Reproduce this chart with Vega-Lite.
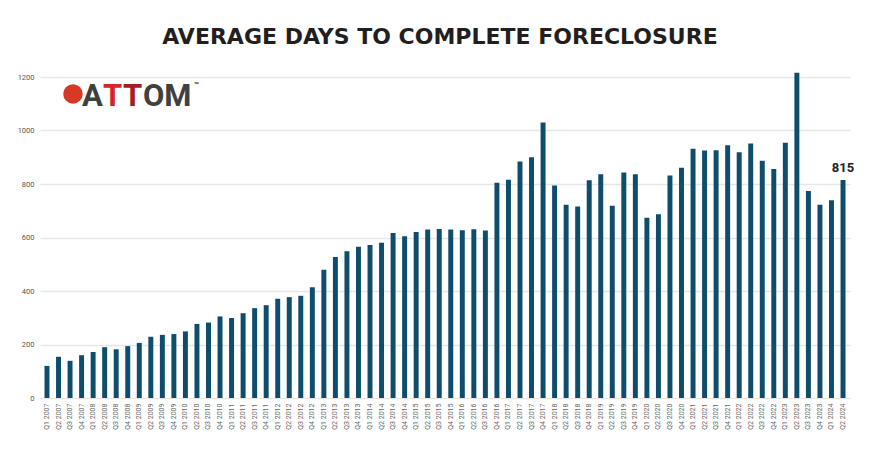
{
  "$schema": "https://vega.github.io/schema/vega-lite/v6.json",
  "width": 810,
  "height": 321,
  "autosize": {"type": "none"},
  "padding": {"left": 40, "top": 77, "right": 30, "bottom": 56},
  "background": "white",
  "title": {
    "text": "AVERAGE DAYS TO COMPLETE FORECLOSURE",
    "frame": "group",
    "anchor": "middle",
    "offset": 24,
    "dx": -5,
    "font": "DejaVu Sans",
    "fontSize": 22,
    "fontWeight": 700,
    "color": "#231f20"
  },
  "config": {
    "view": {"stroke": null},
    "axis": {"labelFont": "Roboto", "labelColor": "#555555"}
  },
  "data": {
    "values": [
      {"q": "Q1 2007", "days": 120}, {"q": "Q2 2007", "days": 154}, {"q": "Q3 2007", "days": 139}, {"q": "Q4 2007", "days": 160},
      {"q": "Q1 2008", "days": 172}, {"q": "Q2 2008", "days": 190}, {"q": "Q3 2008", "days": 182}, {"q": "Q4 2008", "days": 194},
      {"q": "Q1 2009", "days": 206}, {"q": "Q2 2009", "days": 229}, {"q": "Q3 2009", "days": 236}, {"q": "Q4 2009", "days": 239},
      {"q": "Q1 2010", "days": 249}, {"q": "Q2 2010", "days": 277}, {"q": "Q3 2010", "days": 282}, {"q": "Q4 2010", "days": 305},
      {"q": "Q1 2011", "days": 299}, {"q": "Q2 2011", "days": 317}, {"q": "Q3 2011", "days": 336}, {"q": "Q4 2011", "days": 347},
      {"q": "Q1 2012", "days": 371}, {"q": "Q2 2012", "days": 377}, {"q": "Q3 2012", "days": 382}, {"q": "Q4 2012", "days": 414},
      {"q": "Q1 2013", "days": 479}, {"q": "Q2 2013", "days": 527}, {"q": "Q3 2013", "days": 549}, {"q": "Q4 2013", "days": 565},
      {"q": "Q1 2014", "days": 572}, {"q": "Q2 2014", "days": 580}, {"q": "Q3 2014", "days": 617}, {"q": "Q4 2014", "days": 605},
      {"q": "Q1 2015", "days": 621}, {"q": "Q2 2015", "days": 630}, {"q": "Q3 2015", "days": 632}, {"q": "Q4 2015", "days": 630},
      {"q": "Q1 2016", "days": 627}, {"q": "Q2 2016", "days": 631}, {"q": "Q3 2016", "days": 626}, {"q": "Q4 2016", "days": 805},
      {"q": "Q1 2017", "days": 816}, {"q": "Q2 2017", "days": 884}, {"q": "Q3 2017", "days": 900}, {"q": "Q4 2017", "days": 1030},
      {"q": "Q1 2018", "days": 794}, {"q": "Q2 2018", "days": 722}, {"q": "Q3 2018", "days": 716}, {"q": "Q4 2018", "days": 814},
      {"q": "Q1 2019", "days": 836}, {"q": "Q2 2019", "days": 719}, {"q": "Q3 2019", "days": 843}, {"q": "Q4 2019", "days": 836},
      {"q": "Q1 2020", "days": 674}, {"q": "Q2 2020", "days": 687}, {"q": "Q3 2020", "days": 832}, {"q": "Q4 2020", "days": 861},
      {"q": "Q1 2021", "days": 932}, {"q": "Q2 2021", "days": 925}, {"q": "Q3 2021", "days": 926}, {"q": "Q4 2021", "days": 945},
      {"q": "Q1 2022", "days": 919}, {"q": "Q2 2022", "days": 951}, {"q": "Q3 2022", "days": 887}, {"q": "Q4 2022", "days": 856},
      {"q": "Q1 2023", "days": 954}, {"q": "Q2 2023", "days": 1216}, {"q": "Q3 2023", "days": 774}, {"q": "Q4 2023", "days": 722},
      {"q": "Q1 2024", "days": 739}, {"q": "Q2 2024", "days": 815}
    ]
  },
  "encoding": {
    "x": {
      "field": "q",
      "type": "ordinal",
      "title": null,
      "scale": {
        "domain": ["Q1 2007","Q2 2007","Q3 2007","Q4 2007","Q1 2008","Q2 2008","Q3 2008","Q4 2008","Q1 2009","Q2 2009","Q3 2009","Q4 2009","Q1 2010","Q2 2010","Q3 2010","Q4 2010","Q1 2011","Q2 2011","Q3 2011","Q4 2011","Q1 2012","Q2 2012","Q3 2012","Q4 2012","Q1 2013","Q2 2013","Q3 2013","Q4 2013","Q1 2014","Q2 2014","Q3 2014","Q4 2014","Q1 2015","Q2 2015","Q3 2015","Q4 2015","Q1 2016","Q2 2016","Q3 2016","Q4 2016","Q1 2017","Q2 2017","Q3 2017","Q4 2017","Q1 2018","Q2 2018","Q3 2018","Q4 2018","Q1 2019","Q2 2019","Q3 2019","Q4 2019","Q1 2020","Q2 2020","Q3 2020","Q4 2020","Q1 2021","Q2 2021","Q3 2021","Q4 2021","Q1 2022","Q2 2022","Q3 2022","Q4 2022","Q1 2023","Q2 2023","Q3 2023","Q4 2023","Q1 2024","Q2 2024"],
        "paddingInner": 0.57,
        "paddingOuter": 0.39
      },
      "axis": {
        "labelAngle": -90,
        "labelFontSize": 7,
        "labelColor": "#666666",
        "labelPadding": 5,
        "ticks": false,
        "domain": false,
        "grid": false
      }
    },
    "y": {
      "field": "days",
      "type": "quantitative",
      "title": null,
      "scale": {"domain": [0, 1200], "nice": false},
      "axis": {
        "values": [0, 200, 400, 600, 800, 1000, 1200],
        "format": "d",
        "labelFontSize": 7.5,
        "labelPadding": 6,
        "ticks": false,
        "domain": false,
        "gridColor": "#e6e6e6",
        "gridWidth": 1.5
      }
    }
  },
  "layer": [
    {
      "mark": {"type": "bar", "color": "#0f4d6d"}
    },
    {
      "transform": [{"filter": "datum.q === 'Q2 2024'"}],
      "mark": {"type": "text", "font": "Roboto", "fontSize": 13, "fontWeight": 700, "color": "#222222", "baseline": "bottom", "dy": -5},
      "encoding": {"text": {"field": "days", "type": "quantitative"}}
    },
    {
      "data": {"values": [{"q": "Q1 2007", "days": 1092}]},
      "layer": [
        {
          "mark": {"type": "point", "shape": "circle", "filled": true, "color": "#d63a27", "opacity": 1, "size": 380, "xOffset": 26, "yOffset": -12}
        },
        {
          "mark": {"type": "text", "text": "A", "font": "Roboto", "fontSize": 31, "fontWeight": 700, "color": "#404040", "align": "left", "baseline": "alphabetic", "dx": 35}
        },
        {
          "mark": {"type": "text", "text": "T", "font": "Roboto", "fontSize": 31, "fontWeight": 700, "color": "#d8232a", "align": "left", "baseline": "alphabetic", "dx": 56}
        },
        {
          "mark": {"type": "text", "text": "T", "font": "Roboto", "fontSize": 31, "fontWeight": 700, "color": "#a51d24", "align": "left", "baseline": "alphabetic", "dx": 76}
        },
        {
          "mark": {"type": "text", "text": "OM", "font": "Roboto", "fontSize": 31, "fontWeight": 700, "color": "#404040", "align": "left", "baseline": "alphabetic", "dx": 96}
        },
        {
          "mark": {"type": "text", "text": "™", "font": "Roboto", "fontSize": 8, "fontWeight": 700, "color": "#404040", "align": "left", "baseline": "top", "dx": 147, "dy": -24}
        }
      ]
    }
  ]
}
